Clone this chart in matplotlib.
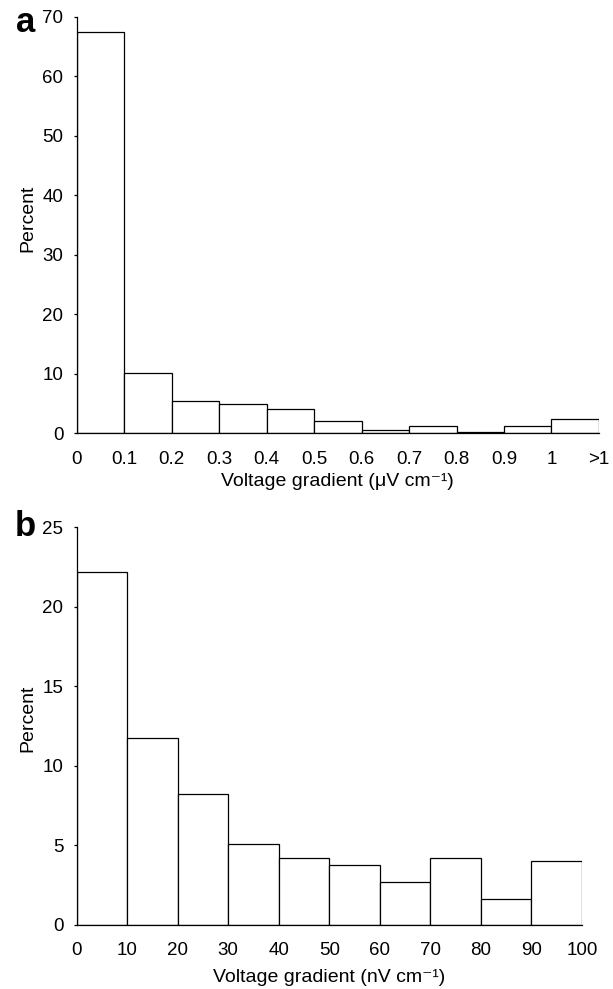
import matplotlib
matplotlib.use('Agg')
import matplotlib.pyplot as plt

plt.rcParams['font.family'] = ['Liberation Sans', 'DejaVu Sans']

# panel a: voltage gradient in uV/cm, 0.1-wide bins plus an overflow bin
a_labels = ['0', '0.1', '0.2', '0.3', '0.4', '0.5', '0.6', '0.7', '0.8', '0.9', '1', '>1']
a_percent = [67.4, 10.1, 5.5, 5.0, 4.0, 2.1, 0.55, 1.3, 0.28, 1.3, 2.4]
a_yticks = [0, 10, 20, 30, 40, 50, 60, 70]

# panel b: voltage gradient in nV/cm, 10-wide bins
b_edges = [0, 10, 20, 30, 40, 50, 60, 70, 80, 90, 100]
b_percent = [22.2, 11.7, 8.2, 5.05, 4.2, 3.75, 2.65, 4.2, 1.6, 3.97]
b_yticks = [0, 5, 10, 15, 20, 25]

TICK_FS = 13.5
LABEL_FS = 14


def style_axes(ax, xpad):
    for side in ('top', 'right'):
        ax.spines[side].set_visible(False)
    for side in ('left', 'bottom'):
        ax.spines[side].set_linewidth(0.9)
        ax.spines[side].set_color('black')
    ax.tick_params(axis='x', length=0, pad=xpad, labelsize=TICK_FS)
    ax.tick_params(axis='y', length=2.5, width=0.9, pad=7, labelsize=TICK_FS, direction='out')


fig = plt.figure(figsize=(6.13, 9.89), dpi=100)

# ── a ──
ax_a = fig.add_axes([0.1251, 0.5619, 0.852, 0.4212])
n_a = len(a_percent)
ax_a.bar(range(n_a), a_percent, width=1, align='edge',
         color='white', edgecolor='black', linewidth=0.9)
ax_a.set_xlim(0, n_a)
ax_a.set_ylim(0, 70)
ax_a.set_xticks(range(len(a_labels)))
ax_a.set_xticklabels(a_labels)
ax_a.set_yticks(a_yticks)
style_axes(ax_a, xpad=13)

# ── b ──
ax_b = fig.add_axes([0.1251, 0.0652, 0.8243, 0.4019])
ax_b.bar(b_edges[:-1], b_percent, width=10, align='edge',
         color='white', edgecolor='black', linewidth=0.9)
ax_b.set_xlim(0, 100)
ax_b.set_ylim(0, 25)
ax_b.set_xticks(b_edges)
ax_b.set_yticks(b_yticks)
style_axes(ax_b, xpad=12.5)

# labels placed by pixel position of the reference
W, H = 613, 989
fig.text(337 / W, 1 - 481 / H, 'Voltage gradient (μV cm⁻¹)',
         ha='center', va='center', fontsize=LABEL_FS)
fig.text(329 / W, 1 - 978 / H, 'Voltage gradient (nV cm⁻¹)',
         ha='center', va='center', fontsize=LABEL_FS)
fig.text(28 / W, 1 - 218 / H, 'Percent', rotation=90,
         ha='center', va='center', fontsize=LABEL_FS)
fig.text(28 / W, 1 - 718 / H, 'Percent', rotation=90,
         ha='center', va='center', fontsize=LABEL_FS)

fig.text(26 / W, 1 - 22 / H, 'a', ha='center', va='center',
         fontsize=25, fontweight='bold')
fig.text(25 / W, 1 - 526 / H, 'b', ha='center', va='center',
         fontsize=25, fontweight='bold')

fig.savefig('out.png', dpi=100)
